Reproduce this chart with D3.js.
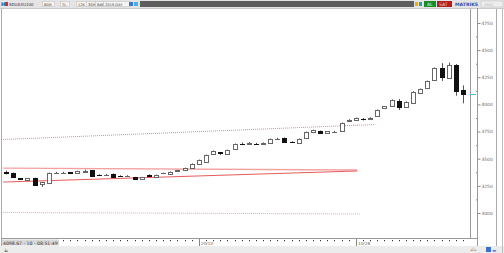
<!DOCTYPE html>
<html><head><meta charset="utf-8">
<script src="https://cdn.jsdelivr.net/npm/d3@7"></script>
<style>body{margin:0;background:#fff;overflow:hidden}text{font-family:"DejaVu Sans",sans-serif}</style>
</head><body><script>
// candle values, one per bar
var opens  = [3382,3368,3320,3305,3322,3267,3276,3366,3370,3374,3368,3382,3392,3352,3348,3359,3343,3339,3330,3313,3354,3332,3366,3356,3389,3396,3414,3447,3470,3543,3558,3539,3585,3638,3632,3637,3640,3645,3680,3691,3658,3645,3691,3749,3755,3737,3742,3758,3843,3857,3868,3864,3893,3967,3990,4035,3980,4013,4105,4151,4225,4335,4244,4363,4133];
var highs  = [3391,3373,3322,3322,3325,3288,3372,3378,3380,3378,3390,3400,3396,3358,3360,3366,3347,3348,3333,3333,3357,3354,3373,3382,3398,3418,3456,3492,3538,3576,3562,3584,3640,3650,3653,3647,3650,3686,3692,3696,3662,3686,3750,3768,3760,3755,3756,3833,3864,3880,3875,3882,3953,3985,4046,4050,4028,4122,4147,4220,4340,4381,4385,4372,4175];
var lows   = [3355,3327,3310,3300,3250,3240,3272,3360,3364,3365,3365,3378,3336,3344,3345,3330,3334,3335,3310,3310,3338,3328,3363,3352,3386,3393,3410,3443,3466,3540,3535,3535,3580,3630,3628,3628,3636,3642,3676,3650,3648,3640,3688,3746,3733,3733,3738,3754,3840,3853,3852,3860,3890,3962,3985,3949,3975,4010,4100,4146,4220,4216,4240,4080,4010];
var closes = [3364,3332,3313,3318,3258,3285,3368,3370,3372,3368,3387,3384,3341,3348,3352,3334,3339,3343,3313,3330,3341,3350,3370,3378,3392,3414,3451,3488,3534,3571,3552,3580,3635,3633,3649,3633,3645,3682,3684,3654,3652,3682,3746,3760,3737,3751,3750,3829,3855,3872,3863,3878,3949,3981,4041,3973,4022,4117,4142,4216,4335,4253,4363,4124,4098.67];

var priceTicks = [3000,3250,3500,3750,4000,4250,4500,4750];
var minorTicks = [3125,3375,3625,3875,4125,4375,4625];
var dateIndex = [27,49];
var dateLabels = ["20/10","10/28"];
var lastPrice = 4098.67;
var statusText = "4098.67 - 10 - 08:51:49";

// drawn trend lines, [bar index, price] pairs
var solidUpper  = [[-0.4,3414],[49.2,3396]];
var solidLower  = [[-0.4,3285],[49.2,3387]];
var dottedUpper = [[-0.4,3677],[51.7,3815]];
var dottedLower = [[-0.4,3005],[49.7,2991]];

var W = 504, H = 253;
var svg = d3.select('body').append('svg').attr('width', W).attr('height', H);

var x = d3.scaleLinear().domain([0, opens.length - 1]).range([6, 463]);
var y = d3.scaleLinear().domain([3000, 4750]).range([213, 23]);

// frame
svg.append('rect').attr('x',0).attr('y',0).attr('width',W).attr('height',H).attr('fill','#fff');
svg.append('rect').attr('x',0).attr('y',246).attr('width',W).attr('height',7).attr('fill','#ececec');
svg.append('line').attr('x1',1.5).attr('x2',1.5).attr('y1',8).attr('y2',246).attr('stroke','#aaa');
svg.append('line').attr('x1',470.5).attr('x2',470.5).attr('y1',8).attr('y2',238).attr('stroke','#999');
svg.append('line').attr('x1',496.5).attr('x2',496.5).attr('y1',8).attr('y2',246).attr('stroke','#aaa');
svg.append('line').attr('x1',502.5).attr('x2',502.5).attr('y1',8).attr('y2',253).attr('stroke','#bbb');
svg.append('line').attr('x1',1).attr('x2',477).attr('y1',238.5).attr('y2',238.5).attr('stroke','#999');

// toolbar
var tb = svg.append('g');
tb.append('rect').attr('x',0).attr('y',0).attr('width',W).attr('height',8).attr('fill','#e4e4e4');
tb.append('rect').attr('x',140).attr('y',1).attr('width',274).attr('height',6).attr('fill','#5e5e5e');
tb.append('text').attr('x',1).attr('y',6).attr('font-size',5).attr('fill','#2050b0').attr('font-weight','bold').text('H');
tb.append('rect').attr('x',5).attr('y',2).attr('width',3).attr('height',4).attr('fill','#d03030');
tb.append('text').attr('x',9).attr('y',6).attr('font-size',4).attr('fill','#335').text('SDUAXU100');
[[44,'60M'],[62,'TL'],[78,'12K'],[88,'30M'],[97,'6dB'],[105,'2019.DAY']].forEach(function(d){
  tb.append('rect').attr('x',d[0]-1.5).attr('y',1.5).attr('width',d[1].length*3+3).attr('height',5).attr('fill','#f4f4f4').attr('stroke','#bbb').attr('stroke-width',0.5);
  tb.append('text').attr('x',d[0]).attr('y',5.6).attr('font-size',3.6).attr('fill','#444').text(d[1]);
});
tb.append('rect').attr('x',129).attr('y',2).attr('width',4).attr('height',4).attr('fill','#3a7ad0');
tb.append('rect').attr('x',134).attr('y',2).attr('width',4).attr('height',4).attr('fill','#4ab0e0');
tb.append('rect').attr('x',415).attr('y',2).attr('width',3).attr('height',4).attr('fill','#e8b000');
tb.append('rect').attr('x',419).attr('y',2).attr('width',3).attr('height',4).attr('fill','#2aa0a0');
tb.append('rect').attr('x',424).attr('y',1).attr('width',12).attr('height',6).attr('fill','#1f8a2a');
tb.append('text').attr('x',427).attr('y',5.8).attr('font-size',4.5).attr('fill','#dfd').text('AL');
tb.append('rect').attr('x',437).attr('y',1).attr('width',15).attr('height',6).attr('fill','#b01e1e');
tb.append('text').attr('x',439).attr('y',5.8).attr('font-size',4.5).attr('fill','#fdd').text('SAT');
tb.append('text').attr('x',455).attr('y',5.8).attr('font-size',4.6).attr('fill','#3050a8').attr('font-weight','bold').text('MATRIKS');
tb.append('rect').attr('x',481).attr('y',1).attr('width',22).attr('height',6).attr('fill','#eee').attr('stroke','#bbb').attr('stroke-width',0.5);
tb.append('text').attr('x',484).attr('y',5.6).attr('font-size',3.8).attr('fill','#bbb').text('ARAÇ');
svg.append('line').attr('x1',0).attr('x2',W).attr('y1',8.5).attr('y2',8.5).attr('stroke','#c8c8c8');

// trend lines
var line = d3.line().x(function(d){ return x(d[0]); }).y(function(d){ return y(d[1]); });
svg.append('path').attr('d', line(solidUpper)).attr('fill','none').attr('stroke','#f4a0a0').attr('stroke-width',1.3);
svg.append('path').attr('d', line(solidLower)).attr('fill','none').attr('stroke','#e85a5a').attr('stroke-width',1);
svg.append('path').attr('d', line(dottedUpper)).attr('fill','none').attr('stroke','#e86060').attr('stroke-width',0.8).attr('stroke-dasharray','1,1');
svg.append('path').attr('d', line(dottedLower)).attr('fill','none').attr('stroke','#f08a8a').attr('stroke-width',0.8).attr('stroke-dasharray','1,1');

// candles
var bars = d3.range(opens.length).map(function(i){
  return {i:i, o:opens[i], h:highs[i], l:lows[i], c:closes[i]};
});
var cg = svg.append('g').selectAll('g').data(bars).enter().append('g');
cg.append('line')
  .attr('x1', function(d){ return Math.round(x(d.i)) + 0.5; })
  .attr('x2', function(d){ return Math.round(x(d.i)) + 0.5; })
  .attr('y1', function(d){ return y(d.h); })
  .attr('y2', function(d){ return y(d.l); })
  .attr('stroke','#555');
cg.append('rect')
  .attr('x', function(d){ return Math.round(x(d.i)) - 1.5; })
  .attr('width', 4)
  .attr('y', function(d){ return Math.round(y(Math.max(d.o, d.c))) + 0.5; })
  .attr('height', function(d){
    return Math.max(Math.round(y(Math.min(d.o, d.c))) - Math.round(y(Math.max(d.o, d.c))), 0.01);
  })
  .attr('fill', function(d){ return d.c >= d.o ? '#fff' : '#111'; })
  .attr('stroke', function(d){ return d.c >= d.o ? '#666' : '#111'; });

// price axis
var ax = svg.append('g').attr('transform','translate(477.5,0)')
  .call(d3.axisRight(y).tickValues(priceTicks).tickSize(3).tickPadding(1).tickFormat(d3.format('d')));
ax.select('.domain').remove();
ax.selectAll('line').attr('stroke','#888');
ax.selectAll('text').attr('font-size',4.4).attr('fill','#666').attr('font-family','"DejaVu Sans",sans-serif');
var mx = svg.append('g').attr('transform','translate(477.5,0)')
  .call(d3.axisLeft(y).tickValues(minorTicks).tickSize(1.5).tickFormat(''));
mx.select('.domain').remove();
mx.selectAll('line').attr('stroke','#888');
svg.append('line').attr('x1',477.5).attr('x2',477.5).attr('y1',8).attr('y2',246).attr('stroke','#999');
svg.append('line').attr('x1',470).attr('x2',476).attr('y1',Math.round(y(lastPrice))+0.5).attr('y2',Math.round(y(lastPrice))+0.5).attr('stroke','#40c8d8');

// time axis dots
var tg = svg.append('g');
tg.selectAll('rect').data(d3.range(8, opens.length)).enter().append('rect')
  .attr('x', function(i){ return Math.round(x(i)); })
  .attr('y', 240).attr('width',1).attr('height',1.2).attr('fill','#333');
dateIndex.forEach(function(i, k){
  var px = Math.round(x(i)) + 0.5;
  tg.append('line').attr('x1',px).attr('x2',px).attr('y1',239).attr('y2',246).attr('stroke','#888');
  tg.append('text').attr('x',px+1.5).attr('y',245).attr('font-size',4.2).attr('fill','#666').text(dateLabels[k]);
});

// status line
svg.append('rect').attr('x',2).attr('y',239.5).attr('width',57).attr('height',6).attr('fill','#d8d8d8');
svg.append('text').attr('x',3).attr('y',244.6).attr('font-size',4.6).attr('fill','#333').text(statusText);
svg.append('text').attr('x',4).attr('y',251.5).attr('font-size',4.5).attr('fill','#555').text('ط');
svg.append('text').attr('x',470).attr('y',251).attr('font-size',4.5).attr('fill','#777').text('ﺪﻟﺪ');
svg.append('rect').attr('x',486).attr('y',247).attr('width',5).attr('height',5).attr('fill','#3a70c8');
svg.append('text').attr('x',492).attr('y',251.5).attr('font-size',4.5).attr('fill','#3a70c8').text('◂▸');
</script></body></html>
